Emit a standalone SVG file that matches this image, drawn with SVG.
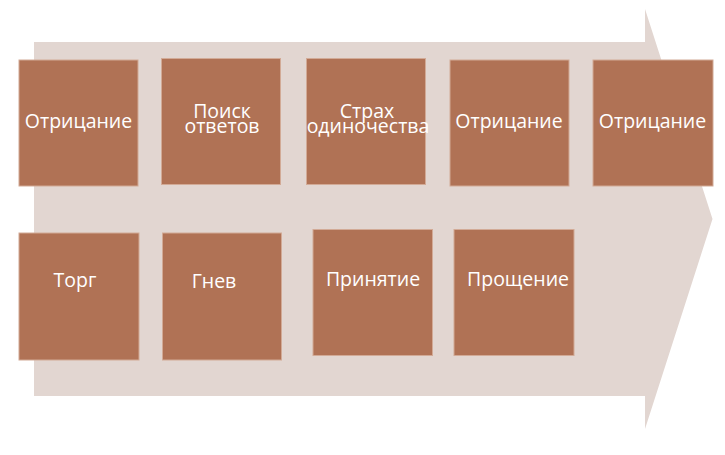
<svg xmlns="http://www.w3.org/2000/svg" width="725" height="455" viewBox="0 0 725 455">
<style>
.box{fill:#B07255;stroke:#D2AA96;stroke-width:1}
.t{font-family:"Open Sans","Noto Sans","DejaVu Sans",sans-serif;font-size:19.5px;fill:#FFFFFF;text-anchor:middle}
</style>
<rect width="725" height="455" fill="#FFFFFF"/>
<g id="arrow">
<polygon points="34,42 645,42 645,9 712.5,219 645,429 645,396 34,396" fill="#E2D6D1"/>
</g>
<g id="connectors"></g>
<g id="n1"><rect class="box" x="19" y="60" width="119" height="126"/><text class="t" x="78.5" y="127.5">Отрицание</text></g>
<g id="n2"><rect class="box" x="161.5" y="58.5" width="119" height="126"/><text class="t" x="222" y="117.5">Поиск</text><text class="t" x="222" y="133">ответов</text></g>
<g id="n3"><rect class="box" x="306.5" y="58.5" width="119" height="126"/><text class="t" x="367" y="117.5">Страх</text><text class="t" x="368" y="133">одиночества</text></g>
<g id="n4"><rect class="box" x="450" y="60" width="119" height="126"/><text class="t" x="509" y="127.5">Отрицание</text></g>
<g id="n5"><rect class="box" x="593" y="60" width="120" height="126"/><text class="t" x="652.5" y="127.5">Отрицание</text></g>
<g id="n6"><rect class="box" x="19" y="233" width="120" height="127"/><text class="t" x="75" y="287">Торг</text></g>
<g id="n7"><rect class="box" x="162.5" y="233" width="119" height="127"/><text class="t" x="214" y="288">Гнев</text></g>
<g id="n8"><rect class="box" x="313" y="229.5" width="119.5" height="126"/><text class="t" x="373" y="286">Принятие</text></g>
<g id="n9"><rect class="box" x="454" y="229.5" width="120" height="126"/><text class="t" x="518" y="286">Прощение</text></g>
</svg>
